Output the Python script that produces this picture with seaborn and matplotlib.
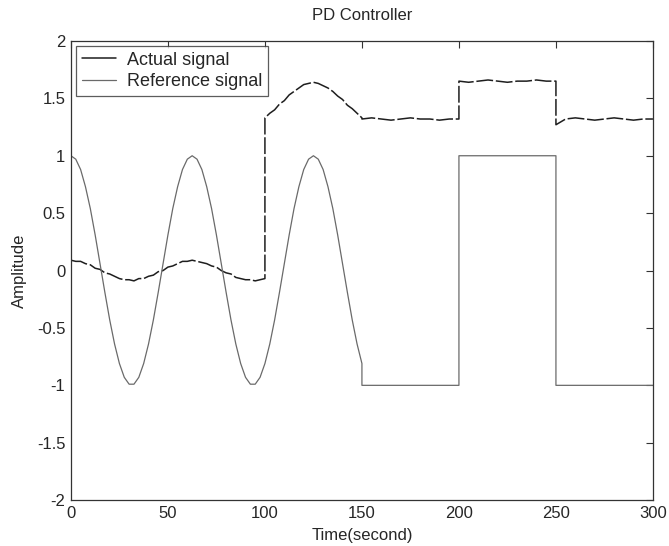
import pandas as pd
import numpy as np
import seaborn as sns
import matplotlib.pyplot as plt

# valores (amostras a cada 2.5 s ate 150 s)
t_curva = [i * 2.5 for i in range(61)]

ref_curva = [1.00, 0.97, 0.88, 0.73, 0.54, 0.31, 0.06, -0.19, -0.43, -0.64,
             -0.81, -0.93, -0.99, -0.99, -0.93, -0.81, -0.64, -0.43, -0.19, 0.06,
             0.31, 0.54, 0.73, 0.88, 0.97, 1.00, 0.97, 0.88, 0.73, 0.54,
             0.31, 0.06, -0.19, -0.43, -0.64, -0.81, -0.93, -0.99, -0.99, -0.93,
             -0.81, -0.64, -0.43, -0.19, 0.06, 0.31, 0.54, 0.73, 0.88, 0.97,
             1.00, 0.97, 0.88, 0.73, 0.54, 0.31, 0.06, -0.19, -0.43, -0.64,
             -0.81]
# degraus do sinal de referencia depois de 150 s
t_degrau = [150, 200, 200, 250, 250, 300]
ref_degrau = [-1, -1, 1, 1, -1, -1]

# sinal real: 0-100 s (oscilacao pequena)
real_a = [0.09, 0.08, 0.08, 0.06, 0.05, 0.02, 0.01, -0.02, -0.03, -0.05,
          -0.07, -0.08, -0.08, -0.09, -0.07, -0.07, -0.05, -0.04, -0.01, 0.00,
          0.03, 0.04, 0.06, 0.08, 0.08, 0.09, 0.08, 0.07, 0.06, 0.04,
          0.03, 0.00, -0.02, -0.03, -0.06, -0.07, -0.08, -0.08, -0.09, -0.08,
          -0.07]
# sinal real: 100-150 s
real_b = [1.33, 1.37, 1.40, 1.45, 1.48, 1.53, 1.56, 1.59, 1.62, 1.63,
          1.64, 1.63, 1.61, 1.59, 1.56, 1.52, 1.49, 1.44, 1.41, 1.37,
          1.33]
# sinal real: 150-300 s (amostras a cada 5 s)
t_fim = [150, 155, 160, 165, 170, 175, 180, 185, 190, 195, 200,
         200, 205, 210, 215, 220, 225, 230, 235, 240, 245, 250,
         250, 255, 260, 265, 270, 275, 280, 285, 290, 295, 300]
real_fim = [1.32, 1.33, 1.32, 1.31, 1.32, 1.33, 1.32, 1.32, 1.31, 1.32, 1.32,
            1.65, 1.64, 1.65, 1.66, 1.65, 1.64, 1.65, 1.65, 1.66, 1.65, 1.65,
            1.27, 1.32, 1.33, 1.32, 1.31, 1.32, 1.33, 1.32, 1.31, 1.32, 1.32]

t_real = t_curva[:41] + t_curva[40:] + t_fim
y_real = real_a + real_b + real_fim
t_ref = t_curva + t_degrau
y_ref = ref_curva + ref_degrau

real = pd.DataFrame({'Tempo': t_real, 'Amplitude': y_real})
ref = pd.DataFrame({'Tempo': t_ref, 'Amplitude': y_ref})

sns.set_style('white')
plt.rcParams['font.family'] = ['Liberation Sans', 'DejaVu Sans']

fig, ax = plt.subplots(figsize=(6.69, 5.46), dpi=100)
fig.subplots_adjust(left=0.106, right=0.976, bottom=0.084, top=0.925)

sns.lineplot(data=real, x='Tempo', y='Amplitude', sort=False, estimator=None,
             color='#1e1e1e', lw=1.1, dashes=False, label='Actual signal', ax=ax)
sns.lineplot(data=ref, x='Tempo', y='Amplitude', sort=False, estimator=None,
             color='#6a6a6a', lw=0.9, label='Reference signal', ax=ax)
# linha "quebrada" como na figura original
ax.lines[0].set_linestyle((0, (11, 1.8)))

ax.set_xlim(0, 300)
ax.set_ylim(-2, 2)
ax.set_xticks([0, 50, 100, 150, 200, 250, 300])
ax.set_yticks([-2, -1.5, -1, -0.5, 0, 0.5, 1, 1.5, 2])
ax.set_yticklabels(['-2', '-1.5', '-1', '-0.5', '0', '0.5', '1', '1.5', '2'])
ax.tick_params(direction='in', top=True, right=True, length=5, width=0.8,
               labelsize=12, color='#333333', pad=4)
for s in ax.spines.values():
    s.set_color('#333333')
    s.set_linewidth(0.9)

ax.set_title('PD Controller', fontsize=12, pad=15)
ax.set_xlabel('Time(second)', fontsize=12, labelpad=5)
ax.set_ylabel('Amplitude', fontsize=12, labelpad=7)

leg = ax.legend(loc='upper left', fontsize=13, frameon=True, fancybox=False,
                edgecolor='#333333', handlelength=1.9, handletextpad=0.6,
                borderaxespad=0.3, borderpad=0.3, labelspacing=0.25)
leg.get_frame().set_linewidth(0.9)
leg.get_lines()[0].set_linestyle('-')

plt.savefig('out.png', dpi=100)
